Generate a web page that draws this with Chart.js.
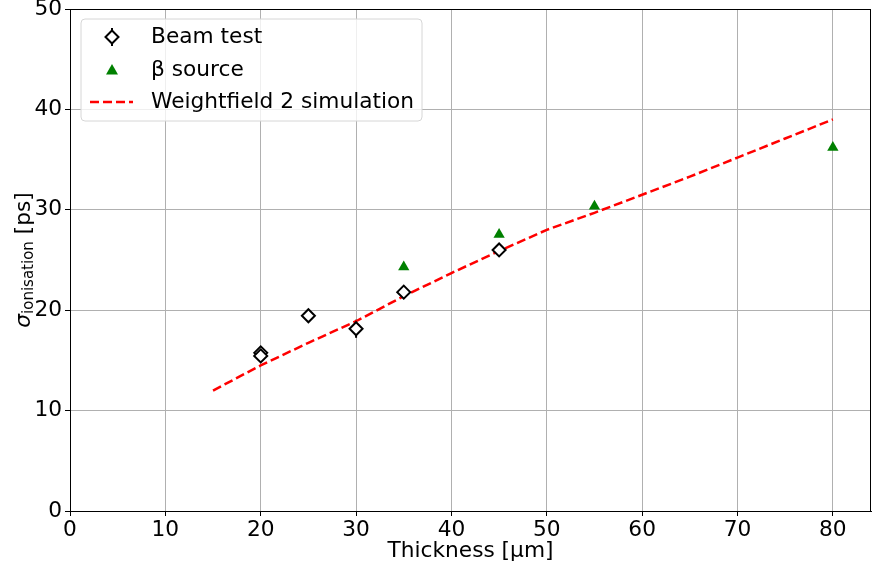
<!DOCTYPE html>
<html>
<head>
<meta charset="utf-8">
<script src="https://cdn.jsdelivr.net/npm/chart.js@4.4.1/dist/chart.umd.min.js"></script>
<style>
  body { margin: 0; background: #fff; }
  #wrap { width: 872px; height: 570px; }
</style>
</head>
<body>
<div id="wrap"><canvas id="myChart"></canvas></div>
<script>
// beam test (diamonds with error bars)
const beamX = [20, 20, 25, 30, 35, 45];
const beamY = [15.75, 15.45, 19.45, 18.15, 21.8, 26.0];
const beamErr = [0.3, 0.3, 0.2, 0.9, 0.3, 0.3];

// beta source (triangles)
const betaX = [35, 45, 55, 80];
const betaY = [24.3, 27.55, 30.35, 36.2];

// Weightfield 2 simulation (dashed line)
const simX = [15, 20, 25, 30, 35, 40, 45, 50, 55, 60, 65, 70, 75, 80];
const simY = [12.0, 14.5, 16.75, 18.9, 21.4, 23.7, 25.9, 28.0, 29.7, 31.5, 33.3, 35.2, 37.1, 39.0];

const xTicks = [0, 10, 20, 30, 40, 50, 60, 70, 80];
const yTicks = [0, 10, 20, 30, 40, 50];

const FONT = 'DejaVu Sans';
const FS = 21.7;

function pts(xs, ys) { return xs.map((x, i) => ({ x: x, y: ys[i] })); }

// kill the label overhang padding so the plot area is where we want it
function noPad(axis) {
  axis.paddingTop = 0; axis.paddingBottom = 0;
  axis.paddingLeft = 0; axis.paddingRight = 0;
}

// error bars under the markers
const errorBars = {
  id: 'errorBars',
  beforeDatasetsDraw(chart) {
    const c = chart.ctx, xs = chart.scales.x, ys = chart.scales.y;
    c.save();
    c.strokeStyle = '#000';
    c.lineWidth = 2;
    beamX.forEach((x, i) => {
      const px = xs.getPixelForValue(x);
      c.beginPath();
      c.moveTo(px, ys.getPixelForValue(beamY[i] - beamErr[i]));
      c.lineTo(px, ys.getPixelForValue(beamY[i] + beamErr[i]));
      c.stroke();
    });
    c.restore();
  }
};

// frame, axis titles and matplotlib-like legend
const decor = {
  id: 'decor',
  afterDraw(chart) {
    const c = chart.ctx, a = chart.chartArea;
    c.save();
    c.strokeStyle = '#000';
    c.lineWidth = 1;
    c.strokeRect(a.left + 0.5, a.top + 0.5, a.right - a.left - 1, a.bottom - a.top);

    // x title
    c.fillStyle = '#000';
    c.font = FS + 'px "' + FONT + '"';
    c.textAlign = 'center';
    c.textBaseline = 'middle';
    c.fillText('Thickness [μm]', (a.left + a.right) / 2, 551);

    // y title: sigma with subscript
    c.translate(22, (a.top + a.bottom) / 2);
    c.rotate(-Math.PI / 2);
    c.textAlign = 'left';
    c.textBaseline = 'alphabetic';
    const f1 = 'italic ' + FS + 'px "' + FONT + '"', f2 = '15px "' + FONT + '"', f3 = FS + 'px "' + FONT + '"';
    c.font = f1; const w1 = c.measureText('σ').width;
    c.font = f2; const w2 = c.measureText('ionisation').width;
    c.font = f3; const w3 = c.measureText(' [ps]').width;
    let x0 = -(w1 + w2 + w3) / 2;
    c.font = f1; c.fillText('σ', x0, 8);
    c.font = f2; c.fillText('ionisation', x0 + w1, 11);
    c.font = f3; c.fillText(' [ps]', x0 + w1 + w2, 8);
    c.restore();

    // legend box
    c.save();
    const bx = 81, by = 19, bw = 341, bh = 102, r = 4;
    c.beginPath();
    c.moveTo(bx + r, by);
    c.arcTo(bx + bw, by, bx + bw, by + bh, r);
    c.arcTo(bx + bw, by + bh, bx, by + bh, r);
    c.arcTo(bx, by + bh, bx, by, r);
    c.arcTo(bx, by, bx + bw, by, r);
    c.closePath();
    c.fillStyle = 'rgba(255,255,255,0.8)';
    c.fill();
    c.strokeStyle = '#d6d6d6';
    c.lineWidth = 1;
    c.stroke();

    const rows = [37, 70, 102];
    const mx = 112;
    // beam test marker
    c.strokeStyle = '#000';
    c.lineWidth = 2;
    c.beginPath(); c.moveTo(mx, rows[0] - 9); c.lineTo(mx, rows[0] + 9); c.stroke();
    c.beginPath();
    c.moveTo(mx, rows[0] - 6.5); c.lineTo(mx + 6.5, rows[0]); c.lineTo(mx, rows[0] + 6.5); c.lineTo(mx - 6.5, rows[0]);
    c.closePath();
    c.fillStyle = '#fff'; c.fill(); c.stroke();
    // beta marker
    c.fillStyle = '#008000';
    c.beginPath();
    c.moveTo(mx, rows[1] - 6); c.lineTo(mx + 6, rows[1] + 4.5); c.lineTo(mx - 6, rows[1] + 4.5);
    c.closePath(); c.fill();
    // dashed line
    c.strokeStyle = '#ff0000';
    c.lineWidth = 2.5;
    c.setLineDash([9, 4]);
    c.beginPath(); c.moveTo(90, rows[2]); c.lineTo(133, rows[2]); c.stroke();
    c.setLineDash([]);

    c.fillStyle = '#000';
    c.font = FS + 'px "' + FONT + '"';
    c.textAlign = 'left';
    c.textBaseline = 'middle';
    c.fillText('Beam test', 151, rows[0]);
    c.fillText('β source', 151, rows[1]);
    c.fillText('Weightfield 2 simulation', 151, rows[2]);
    c.restore();
  }
};

const data = {
  datasets: [
    {
      label: 'Weightfield 2 simulation',
      data: pts(simX, simY),
      showLine: true,
      borderColor: '#ff0000',
      borderWidth: 2.5,
      borderDash: [9, 4],
      pointRadius: 0,
      order: 3
    },
    {
      label: 'β source',
      data: pts(betaX, betaY),
      pointStyle: 'triangle',
      pointRadius: 6.5,
      backgroundColor: '#008000',
      borderColor: '#008000',
      borderWidth: 0,
      order: 2
    },
    {
      label: 'Beam test',
      data: pts(beamX, beamY),
      pointStyle: 'rectRot',
      pointRadius: 6.5,
      backgroundColor: '#ffffff',
      borderColor: '#000000',
      borderWidth: 2,
      order: 1
    }
  ]
};

const options = {
  animation: false,
  responsive: true,
  maintainAspectRatio: false,
  layout: { autoPadding: false, padding: { top: 9, right: 1, left: 0, bottom: 0 } },
  plugins: { legend: { display: false }, tooltip: { enabled: false } },
  scales: {
    x: {
      type: 'linear',
      min: 0,
      max: 84,
      afterBuildTicks: (axis) => { axis.ticks = xTicks.map(v => ({ value: v })); },
      afterFit: (axis) => { axis.height = 59; noPad(axis); },
      grid: { color: '#b0b0b0', lineWidth: 1, tickColor: '#000', tickLength: 5 },
      border: { color: '#000', width: 1 },
      ticks: { color: '#000', font: { family: FONT, size: FS }, padding: 1, maxRotation: 0 }
    },
    y: {
      type: 'linear',
      min: 0,
      max: 50,
      afterBuildTicks: (axis) => { axis.ticks = yTicks.map(v => ({ value: v })); },
      afterFit: (axis) => { axis.width = 70; noPad(axis); },
      grid: { color: '#b0b0b0', lineWidth: 1, tickColor: '#000', tickLength: 5 },
      border: { color: '#000', width: 1 },
      ticks: { color: '#000', font: { family: FONT, size: FS }, padding: 3 }
    }
  }
};

const ctx = document.getElementById('myChart').getContext('2d');
const myChart = new Chart(ctx, { type: 'scatter', data, options, plugins: [errorBars, decor] });
</script>
</body>
</html>
